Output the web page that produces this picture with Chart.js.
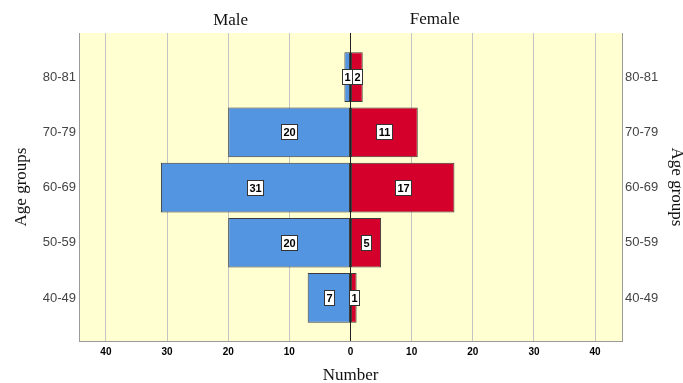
<!DOCTYPE html>
<html>
<head>
<meta charset="utf-8">
<script src="https://cdn.jsdelivr.net/npm/chart.js@4/dist/chart.umd.min.js"></script>
<style>
  html, body { margin: 0; padding: 0; background: #fff; }
  #wrap { width: 683px; height: 383px; }
</style>
</head>
<body>
<div id="wrap"><canvas id="pyramid" width="683" height="383"></canvas></div>
<script>
var ageGroups = ["80-81", "70-79", "60-69", "50-59", "40-49"];
var maleCounts = [1, 20, 31, 20, 7];
var femaleCounts = [2, 11, 17, 5, 1];
var numberTicks = [-40, -30, -20, -10, 0, 10, 20, 30, 40];

var maleData = maleCounts.map((v, i) => ({ x: -v, y: i }));
var femaleData = femaleCounts.map((v, i) => ({ x: v, y: i }));

// yellow plot background
var plotBg = {
    id: "plotBg",
    beforeDraw: function (chart) {
        var a = chart.chartArea;
        var ctx = chart.ctx;
        ctx.save();
        ctx.fillStyle = "#ffffd2";
        ctx.fillRect(a.left, a.top, a.right - a.left, a.bottom - a.top);
        ctx.restore();
    },
};

// white boxed value labels in the middle of each bar
var boxLabels = {
    id: "boxLabels",
    afterDatasetsDraw: function (chart) {
        var ctx = chart.ctx;
        ctx.save();
        ctx.font = "bold 11px 'Liberation Sans', Arial, sans-serif";
        ctx.textAlign = "center";
        ctx.textBaseline = "middle";
        chart.data.datasets.forEach(function (ds, di) {
            var meta = chart.getDatasetMeta(di);
            meta.data.forEach(function (el, i) {
                var txt = String(Math.abs(ds.data[i].x));
                var cx = Math.round((el.x + el.base) / 2);
                var cy = Math.round(el.y);
                var w = Math.round(ctx.measureText(txt).width) + 4;
                var h = 15;
                var x0 = cx - Math.round(w / 2) + 0.5;
                var y0 = cy - Math.round(h / 2) + 0.5;
                ctx.fillStyle = "#ffffff";
                ctx.fillRect(x0, y0, w, h);
                ctx.strokeStyle = "#333333";
                ctx.lineWidth = 1;
                ctx.strokeRect(x0, y0, w, h);
                ctx.fillStyle = "#000000";
                ctx.fillText(txt, cx + 0.5, cy + 1);
            });
        });
        ctx.restore();
    },
};

// Male / Female headings above the plot
var sideTitles = {
    id: "sideTitles",
    afterDraw: function (chart) {
        var ctx = chart.ctx;
        var xs = chart.scales.x;
        ctx.save();
        ctx.font = "17px 'Liberation Serif', 'Times New Roman', serif";
        ctx.fillStyle = "#111";
        ctx.textAlign = "center";
        ctx.textBaseline = "middle";
        ctx.fillText("Male", xs.getPixelForValue(-19.6), 21);
        ctx.fillText("Female", xs.getPixelForValue(13.8), 19.5);
        ctx.restore();
    },
};

function ageTick(value) {
    return ageGroups[value] !== undefined ? ageGroups[value] : "";
}

function ageTicks(scale) {
    scale.ticks = ageGroups.map((g, i) => ({ value: i }));
}

var titleFont = { family: "'Liberation Serif', 'Times New Roman', serif", size: 17, lineHeight: 1 };
var yTickFont = { family: "'Liberation Sans', Arial, sans-serif", size: 13 };

new Chart(document.getElementById("pyramid").getContext("2d"), {
    type: "bar",
    data: {
        datasets: [
            {
                label: "Male",
                data: maleData,
                backgroundColor: "#5495e2",
                borderColor: "#3d3d3d",
                borderWidth: 1,
                borderSkipped: false,
                categoryPercentage: 1,
                barPercentage: 0.9,
            },
            {
                label: "Female",
                data: femaleData,
                backgroundColor: "#d4002b",
                borderColor: "#3d3d3d",
                borderWidth: 1,
                borderSkipped: false,
                categoryPercentage: 1,
                barPercentage: 0.9,
            },
        ],
    },
    options: {
        indexAxis: "y",
        responsive: false,
        animation: false,
        layout: { padding: { top: 33, left: 0, right: 0, bottom: 0 } },
        plugins: {
            legend: { display: false },
            tooltip: { enabled: false },
        },
        scales: {
            x: {
                type: "linear",
                stacked: true,
                min: -44.4,
                max: 44.4,
                afterBuildTicks: function (s) {
                    s.ticks = numberTicks.map((v) => ({ value: v }));
                },
                afterFit: function (s) {
                    s.height = 42;
                },
                ticks: {
                    padding: 5,
                    color: "#000",
                    font: { family: "'Liberation Sans', Arial, sans-serif", size: 10, weight: "bold" },
                    callback: (v) => Math.abs(v),
                },
                grid: {
                    drawTicks: false,
                    color: (c) => (c.tick && c.tick.value === 0 ? "#222222" : "#c4c4c4"),
                },
                border: { display: true, color: "#9a9a9a" },
                title: {
                    display: true,
                    text: "Number",
                    color: "#111",
                    font: titleFont,
                    padding: { top: 0, bottom: -1.5 },
                },
            },
            y: {
                type: "linear",
                position: "left",
                stacked: true,
                reverse: true,
                offset: false,
                min: -0.8,
                max: 4.78,
                afterBuildTicks: ageTicks,
                afterFit: function (s) {
                    s.width = 79;
                },
                ticks: { padding: 3, color: "#444", font: yTickFont, callback: ageTick },
                grid: { display: false, drawTicks: false, tickLength: 0, offset: false },
                border: { display: true, color: "#9a9a9a" },
                title: {
                    display: true,
                    text: "Age groups",
                    color: "#111",
                    font: titleFont,
                    padding: { top: 13.5, bottom: 0 },
                },
            },
            yRight: {
                type: "linear",
                position: "right",
                reverse: true,
                offset: false,
                min: -0.8,
                max: 4.78,
                afterBuildTicks: ageTicks,
                afterFit: function (s) {
                    s.width = 61;
                },
                ticks: { padding: 3, color: "#444", font: yTickFont, callback: ageTick },
                grid: { display: false, drawTicks: false, tickLength: 0, offset: false },
                border: { display: true, color: "#9a9a9a" },
                title: {
                    display: true,
                    text: "Age groups",
                    color: "#111",
                    font: titleFont,
                    padding: { top: -1.5, bottom: 0 },
                },
            },
        },
    },
    plugins: [plotBg, boxLabels, sideTitles],
});
</script>
</body>
</html>
